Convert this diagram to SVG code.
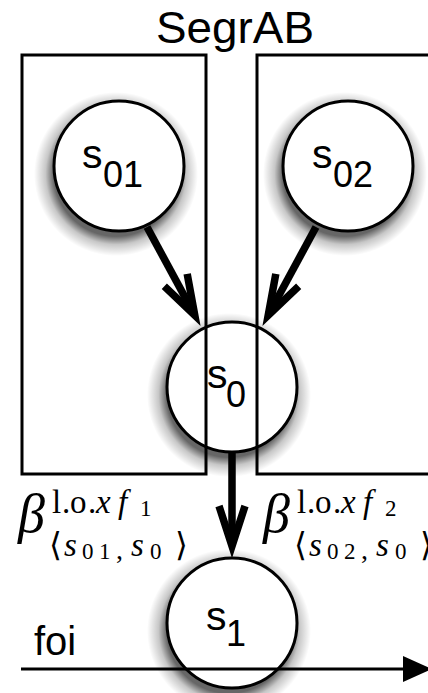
<svg xmlns="http://www.w3.org/2000/svg" width="428" height="693" viewBox="0 0 428 693">
<style>
.node{fill:#fff;stroke:#000;stroke-width:3}
.shadow{fill:url(#shg)}
.plate{fill:none;stroke:#000;stroke-width:3}
.edge{stroke:#000;stroke-width:7.5;fill:none;marker-end:url(#ah)}
.lbl{font-family:"Liberation Sans",Arial,sans-serif;fill:#000}
.m{font-family:"Liberation Serif","DejaVu Serif",serif;fill:#000}
.i{font-style:italic}
</style>
<defs>
<radialGradient id="shg" cx="0.5" cy="0.5" r="0.5">
<stop offset="0.76" stop-color="#000" stop-opacity="0.6"/>
<stop offset="0.86" stop-color="#000" stop-opacity="0.22"/>
<stop offset="1" stop-color="#000" stop-opacity="0"/>
</radialGradient>
<marker id="ah" markerUnits="userSpaceOnUse" orient="auto" refX="0" refY="0" markerWidth="70" markerHeight="50" viewBox="-55 -25 70 50" overflow="visible">
<path d="M-40,-13 L0,0 L-40,13" fill="none" stroke="#000" stroke-width="7.5" stroke-linejoin="miter" stroke-miterlimit="10"/>
</marker>
</defs>

<g id="node-s01"><circle class="shadow" cx="116" cy="174" r="82"/><circle class="node" cx="119" cy="166" r="65"/></g>
<g id="node-s02"><circle class="shadow" cx="345" cy="174" r="82"/><circle class="node" cx="348" cy="166" r="65"/></g>
<g id="node-s0"><circle class="shadow" cx="229" cy="395" r="82"/><circle class="node" cx="232" cy="387" r="65"/></g>
<g id="node-s1"><circle class="shadow" cx="229" cy="631" r="82"/><circle class="node" cx="232" cy="623" r="65"/></g>

<g id="plates">
<rect class="plate" x="22" y="55" width="184" height="419"/>
<rect class="plate" x="257" y="55" width="200" height="419"/>
</g>

<g id="connectors">
<line class="edge" x1="147" y1="227" x2="194.8" y2="315.3"/>
<line class="edge" x1="316" y1="227" x2="268.2" y2="315.3"/>
<line class="edge" x1="232" y1="452" x2="232" y2="546"/>
<line x1="21" y1="669" x2="404" y2="669" stroke="#000" stroke-width="3"/>
<polygon points="403,656 403,682 432,669" fill="#000"/>
</g>

<g id="labels">
<text class="lbl" x="156" y="43" font-size="45" textLength="158" lengthAdjust="spacingAndGlyphs">SegrAB</text>
<text class="lbl" x="82" y="168" font-size="41">s</text><text class="lbl" x="103" y="187" font-size="36">01</text>
<text class="lbl" x="312" y="168" font-size="41">s</text><text class="lbl" x="333" y="187" font-size="36">02</text>
<text class="lbl" x="207" y="388" font-size="41">s</text><text class="lbl" x="226" y="407" font-size="36">0</text>
<text class="lbl" x="206" y="630" font-size="41">s</text><text class="lbl" x="226" y="646" font-size="36">1</text>
<text class="lbl" x="34" y="655" font-size="40">foi</text>
</g>

<g id="beta1">
<text class="m i" x="18" y="532" font-size="54">β</text>
<text class="m" y="513" font-size="33"><tspan x="52">l</tspan><tspan x="62">.</tspan><tspan x="70">o</tspan><tspan x="88">.</tspan><tspan class="i" x="96">x</tspan><tspan class="i" x="118">f</tspan><tspan x="140" y="516" font-size="23">1</tspan></text>
<text class="m" y="556" font-size="33"><tspan x="49">⟨</tspan><tspan class="i" x="64">s</tspan><tspan x="82" y="559" font-size="23">0</tspan><tspan x="99" y="559" font-size="23">1</tspan><tspan x="116" y="559" font-size="28">,</tspan><tspan class="i" x="131" y="556">s</tspan><tspan x="150" y="559" font-size="23">0</tspan><tspan x="175" y="556">⟩</tspan></text>
</g>
<g id="beta2" transform="translate(245,0)">
<text class="m i" x="18" y="532" font-size="54">β</text>
<text class="m" y="513" font-size="33"><tspan x="52">l</tspan><tspan x="62">.</tspan><tspan x="70">o</tspan><tspan x="88">.</tspan><tspan class="i" x="96">x</tspan><tspan class="i" x="118">f</tspan><tspan x="140" y="516" font-size="23">2</tspan></text>
<text class="m" y="556" font-size="33"><tspan x="49">⟨</tspan><tspan class="i" x="64">s</tspan><tspan x="82" y="559" font-size="23">0</tspan><tspan x="99" y="559" font-size="23">2</tspan><tspan x="116" y="559" font-size="28">,</tspan><tspan class="i" x="131" y="556">s</tspan><tspan x="150" y="559" font-size="23">0</tspan><tspan x="175" y="556">⟩</tspan></text>
</g>
</svg>
